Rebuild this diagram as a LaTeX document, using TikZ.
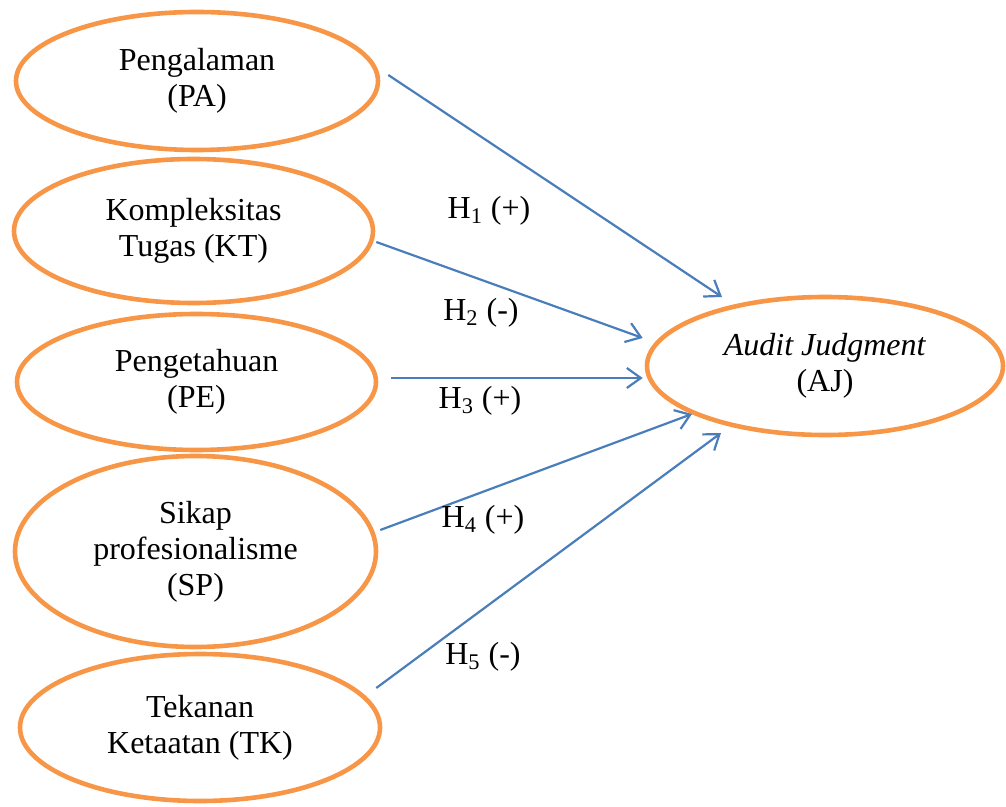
\documentclass[tikz,border=0pt]{standalone}
\usepackage{fontspec}
\setmainfont{Liberation Serif}
\usepackage{tikz}
\usetikzlibrary{shapes.geometric, arrows.meta}
\definecolor{lineorange}{RGB}{247, 150, 70}
\definecolor{lineblue}{RGB}{74, 126, 187}

\begin{document}
\begin{tikzpicture}[
    x=0.5pt, y=-0.5pt,
    var/.style={ellipse, draw=lineorange, line width=2.3pt, inner sep=0pt, align=center, font=\fontsize{16}{18}\selectfont},
    hyp/.style={font=\fontsize{16}{18}\selectfont, inner sep=0pt},
    arr/.style={-{Straight Barb[length=7pt, width=10pt]}, line width=1.1pt, lineblue},
]
\useasboundingbox (0,0) rectangle (1006,807);

\node[var, minimum width=181pt, minimum height=69pt] (pa) at (197,81) {Pengalaman\\(PA)};
\node[var, minimum width=179.5pt, minimum height=72pt] (kt) at (193.5,231) {Kompleksitas\\Tugas (KT)};
\node[var, minimum width=179.5pt, minimum height=68pt] (pe) at (196.5,382) {Pengetahuan\\(PE)};
\node[var, minimum width=180.5pt, minimum height=95.5pt] (sp) at (195.5,551.5) {Sikap\\profesionalisme\\(SP)};
\node[var, minimum width=180pt, minimum height=73.5pt] (tk) at (200,727.5) {Tekanan\\Ketaatan (TK)};

\node[var, minimum width=178pt, minimum height=69pt] (aj) at (825,366) {\textit{Audit Judgment}\\(AJ)};

\draw[arr] ([shift={(8,-6)}]pa.east) -- ([shift={(-103,-69)}]aj.center);
\draw[arr] ([shift={(1,11)}]kt.east) -- ([shift={(-2,-28)}]aj.west);
\draw[arr] ([shift={(13,-4)}]pe.east) -- ([shift={(-2,12)}]aj.west);
\draw[arr] ([shift={(2,-21.5)}]sp.east) -- ([shift={(-133,48)}]aj.center);
\draw[arr] ([shift={(-6,-39.5)}]tk.east) -- ([shift={(-104,67)}]aj.center);

\node[hyp] (h1) at (489,211) {H\textsubscript{1} (+)};
\node[hyp] (h2) at (481,313) {H\textsubscript{2} (-)};
\node[hyp] (h3) at (480,401) {H\textsubscript{3} (+)};
\node[hyp] (h4) at (483,520) {H\textsubscript{4} (+)};
\node[hyp] (h5) at (483,657) {H\textsubscript{5} (-)};

\end{tikzpicture}
\end{document}
